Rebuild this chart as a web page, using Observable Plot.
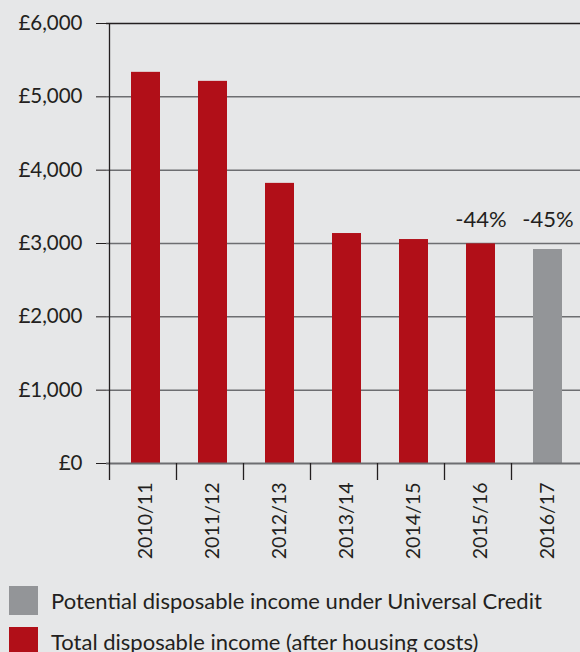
<!DOCTYPE html>
<html>
<head>
<meta charset="utf-8">
<script src="https://cdn.jsdelivr.net/npm/d3@7"></script>
<script src="https://cdn.jsdelivr.net/npm/@observablehq/plot@0.6"></script>
<style>
  html, body { margin: 0; padding: 0; background: #e6e7e8; }
  body { width: 580px; height: 652px; overflow: hidden; font-family: Lato, "Open Sans", sans-serif; color: #231f20; }
  #chart svg { display: block; background: #e6e7e8; }
  .legend { position: relative; height: 80px; }
  .row { position: absolute; left: 9px; display: flex; align-items: center; font-size: 22px; }
  .sw { width: 29px; height: 29px; margin-right: 13px; flex: none; }
</style>
</head>
<body>
<div id="chart"></div>
<div class="legend">
  <div class="row" style="top:14px"><div class="sw" style="background:#939598"></div><span>Potential disposable income under Universal Credit</span></div>
  <div class="row" style="top:55px"><div class="sw" style="background:#b10f18"></div><span>Total disposable income (after housing costs)</span></div>
</div>
<script>
const years = ["2010/11", "2011/12", "2012/13", "2013/14", "2014/15", "2015/16", "2016/17"];
const income = [5334, 5211, 3820, 3136, 3054, 2995, 2918];
const series = ["total", "total", "total", "total", "total", "total", "uc"];
const yTicks = [0, 1000, 2000, 3000, 4000, 5000, 6000];
const labelYears = ["2015/16", "2016/17"];
const labelTexts = ["-44%", "-45%"];

const data = years.map((y, i) => ({year: y, value: income[i], series: series[i]}));
const labels = labelYears.map((y, i) => ({year: y, text: labelTexts[i]}));
const labelBase = income[years.indexOf("2015/16")];

function boundaries(index, scales) {
  const x = scales.x, y = scales.y;
  const g = d3.create("svg:g").attr("stroke", "#231f20").attr("stroke-width", 1.3);
  years.forEach((c, i) => {
    const px = Math.round(x(c)) + 0.5;
    g.append("line").attr("x1", px).attr("x2", px)
      .attr("y1", i === 0 ? y(6000) : y(0)).attr("y2", y(0) + 17);
  });
  return g.node();
}

const chart = Plot.plot({
  width: 580,
  height: 572,
  marginLeft: 106,
  marginRight: 0,
  marginTop: 23,
  marginBottom: 109,
  style: {background: "#e6e7e8", fontFamily: "Lato, 'Open Sans', sans-serif", color: "#231f20"},
  x: {domain: years, padding: 0},
  y: {domain: [0, 6000]},
  color: {domain: ["total", "uc"], range: ["#b10f18", "#939598"]},
  marks: [
    Plot.gridY(yTicks.filter(d => d > 0 && d < 6000), {stroke: "#6d6e71", strokeOpacity: 1, strokeWidth: 1.5}),
    Plot.ruleY([6000], {stroke: "#231f20", strokeWidth: 1.3}),
    Plot.barY(data, {x: "year", y: "value", fill: "series", insetLeft: 22, insetRight: 16}),
    Plot.ruleY([0], {stroke: "#6d6e71", strokeWidth: 2}),
    Plot.axisY({ticks: yTicks, tickFormat: d => "£" + d3.format(",")(d), tickSize: 10, tickPadding: 14, fontSize: 20.5, stroke: "#231f20", label: null}),
    Plot.axisX({tickRotate: -90, tickSize: 0, tickPadding: 19, fontSize: 19.5, dx: 3, label: null}),
    Plot.text(labels, {x: "year", y: () => labelBase, text: "text", dy: -24, dx: 3, fontSize: 22, fill: "#231f20"}),
    boundaries
  ]
});
document.getElementById("chart").appendChild(chart);
</script>
</body>
</html>
